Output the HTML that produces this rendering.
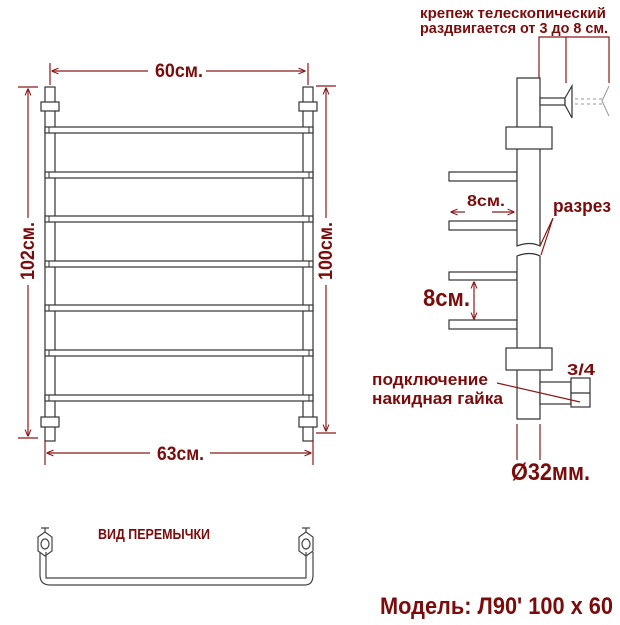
<!DOCTYPE html>
<html><head><meta charset="utf-8"><style>
body{margin:0;background:#fff;width:620px;height:620px;overflow:hidden}
svg text{font-family:"Liberation Sans",sans-serif;font-weight:bold;fill:#7a0c0c}
</style></head><body>
<svg width="620" height="620" viewBox="0 0 620 620" xmlns="http://www.w3.org/2000/svg">
<defs><marker id="a" viewBox="0 0 10 10" refX="9" refY="5" markerWidth="6" markerHeight="6" orient="auto-start-reverse"><path d="M0,1L10,5L0,9" fill="none" stroke="#8b1a1a" stroke-width="1.5"/></marker></defs>
<g fill="#fff" stroke="#333" stroke-width="1.2">
<rect x="45" y="87" width="10" height="354"/><rect x="303" y="87" width="10" height="354"/>
<rect x="41" y="102" width="18" height="9"/><rect x="299" y="102" width="18" height="9"/>
<rect x="41" y="417" width="18" height="10"/><rect x="299" y="417" width="18" height="10"/>
<rect x="45" y="127" width="268" height="6"/><rect x="45" y="172" width="268" height="6"/>
<rect x="45" y="216" width="268" height="6"/><rect x="45" y="261" width="268" height="6"/>
<rect x="45" y="305" width="268" height="6"/><rect x="45" y="350" width="268" height="6"/>
<rect x="45" y="395" width="268" height="6"/>
</g>
<g stroke="#333" stroke-width="1"><path d="M49,127v6M49,172v6M49,216v6M49,261v6M49,305v6M49,350v6M49,395v6M309,127v6M309,172v6M309,216v6M309,261v6M309,305v6M309,350v6M309,395v6"/></g>
<g stroke="#8b1a1a" stroke-width="1.2" fill="none">
<line x1="50" y1="63" x2="50" y2="85"/><line x1="308" y1="63" x2="308" y2="85"/>
<line x1="52" y1="71" x2="148" y2="71" marker-start="url(#a)"/><line x1="206" y1="71" x2="305" y2="71" marker-end="url(#a)"/>
<line x1="18" y1="87" x2="38" y2="87"/><line x1="18" y1="438" x2="38" y2="438"/>
<line x1="28" y1="89" x2="28" y2="218" marker-start="url(#a)"/><line x1="28" y1="285" x2="28" y2="436" marker-end="url(#a)"/>
<line x1="316" y1="86" x2="336" y2="86"/><line x1="316" y1="433" x2="336" y2="433"/>
<line x1="326" y1="88" x2="326" y2="218" marker-start="url(#a)"/><line x1="326" y1="285" x2="326" y2="431" marker-end="url(#a)"/>
<line x1="45" y1="440" x2="45" y2="465"/><line x1="313" y1="440" x2="313" y2="465"/>
<line x1="47" y1="453" x2="150" y2="453" marker-start="url(#a)"/><line x1="210" y1="453" x2="311" y2="453" marker-end="url(#a)"/>
</g>
<text x="155" y="77" font-size="19" textLength="48" lengthAdjust="spacingAndGlyphs">60см.</text>
<text x="157" y="460" font-size="19" textLength="47" lengthAdjust="spacingAndGlyphs">63см.</text>
<text transform="translate(34,280) rotate(-90)" font-size="19" textLength="58" lengthAdjust="spacingAndGlyphs">102см.</text>
<text transform="translate(332,280) rotate(-90)" font-size="19" textLength="58" lengthAdjust="spacingAndGlyphs">100см.</text>
<g fill="#fff" stroke="#333" stroke-width="1.2">
<rect x="449" y="172" width="68" height="9"/><rect x="449" y="221" width="68" height="9"/>
<rect x="449" y="272" width="68" height="8"/><rect x="449" y="320" width="68" height="9"/>
<path d="M517,78H540V246Q530,241 517,246Z"/><path d="M517,256Q530,251 540,256V419H517Z"/>
<rect x="506" y="127" width="46" height="22"/><rect x="506" y="348" width="46" height="22"/>
<rect x="540" y="98" width="25" height="7"/>
<path d="M565,98L572,86V118L565,105Z"/>
<rect x="540" y="382" width="31" height="22"/><rect x="571" y="378" width="19" height="29"/>
<line x1="571" y1="393" x2="590" y2="393"/>
</g>
<g stroke="#999" stroke-width="1" fill="none" stroke-dasharray="3,3"><line x1="575" y1="99" x2="602" y2="99"/><line x1="575" y1="104" x2="602" y2="104"/></g>
<path d="M602,101L609,86M602,101L609,116" stroke="#999" fill="none"/>
<g stroke="#8b1a1a" stroke-width="1.2" fill="none">
<path d="M539,78V37H609V83M566,37V83"/>
<line x1="451" y1="212" x2="465" y2="212" marker-start="url(#a)"/><line x1="492" y1="212" x2="514" y2="212" marker-end="url(#a)"/>
<path d="M553,218L540,246M553,218L541,255"/>
<line x1="474" y1="282" x2="474" y2="319" marker-start="url(#a)" marker-end="url(#a)"/>
<line x1="497" y1="383" x2="580" y2="402"/>
<line x1="517" y1="424" x2="517" y2="460"/><line x1="540" y1="424" x2="540" y2="460"/>
</g>
<text x="420" y="18" font-size="15" textLength="186" lengthAdjust="spacingAndGlyphs">крепеж телескопический</text>
<text x="420" y="33" font-size="15" textLength="188" lengthAdjust="spacingAndGlyphs">раздвигается от 3 до 8 см.</text>
<text x="467" y="206" font-size="16" textLength="38" lengthAdjust="spacingAndGlyphs">8см.</text>
<text x="553" y="212" font-size="18" textLength="58" lengthAdjust="spacingAndGlyphs">разрез</text>
<text x="423" y="306" font-size="24" textLength="47" lengthAdjust="spacingAndGlyphs">8см.</text>
<text x="567" y="375" font-size="16" textLength="28" lengthAdjust="spacingAndGlyphs">3/4</text>
<text x="372" y="385" font-size="17" textLength="116" lengthAdjust="spacingAndGlyphs">подключение</text>
<text x="372" y="404" font-size="17" textLength="131" lengthAdjust="spacingAndGlyphs">накидная гайка</text>
<text x="511" y="480" font-size="24" textLength="79" lengthAdjust="spacingAndGlyphs">Ø32мм.</text>
<g fill="none" stroke="#444" stroke-width="1.2">
<path d="M40,552V575Q40,585 50,585H305Q313,585 313,575V552"/>
<path d="M46,552V578H306V552"/>
<path d="M38,537L45,532L52,537V551L45,556L38,551Z"/><ellipse cx="45" cy="544" rx="4" ry="5"/>
<path d="M299,537L306,532L313,537V551L306,556L299,551Z"/><ellipse cx="306" cy="544" rx="4" ry="5"/>
<path d="M41,528H49M45,528V532M302,528H310M306,528V532"/>
</g>
<text x="98" y="539" font-size="15" textLength="112" lengthAdjust="spacingAndGlyphs">ВИД ПЕРЕМЫЧКИ</text>
<text x="380" y="614" font-size="24" textLength="233" lengthAdjust="spacingAndGlyphs">Модель: Л90' 100 x 60</text>
</svg>
</body></html>
